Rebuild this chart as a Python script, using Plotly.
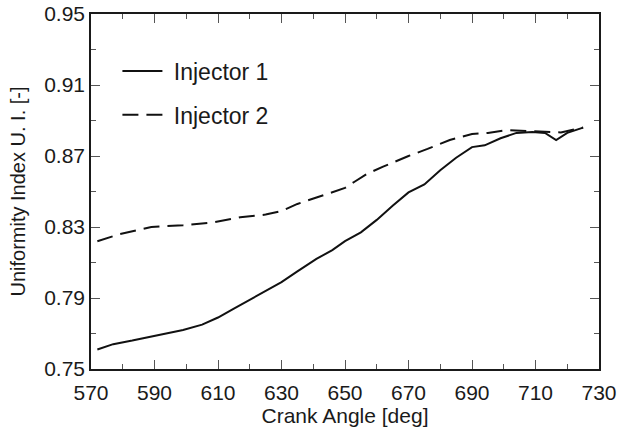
import plotly.graph_objects as go

# Data
inj1_x = [572, 577, 583, 591, 599, 605, 610, 615, 620, 625, 630, 635, 641, 646, 650, 655,
          660, 665, 670, 675, 680, 685, 690, 694, 699, 704, 709, 713, 716.5, 720, 725]
inj1_y = [0.761, 0.764, 0.766, 0.769, 0.772, 0.775, 0.779, 0.784, 0.789, 0.794, 0.799, 0.805,
          0.812, 0.817, 0.822, 0.827, 0.834, 0.842, 0.8495, 0.854, 0.862, 0.869, 0.875, 0.876,
          0.880, 0.883, 0.8835, 0.883, 0.879, 0.883, 0.886]
inj2_x = [572, 579, 589, 599, 608, 617, 625, 630, 635, 640, 645, 650, 653, 657, 662, 666, 670,
          676, 683, 690, 695, 701, 709, 718, 725]
inj2_y = [0.822, 0.826, 0.830, 0.831, 0.8325, 0.8355, 0.837, 0.839, 0.843, 0.846, 0.849, 0.852,
          0.8555, 0.860, 0.864, 0.867, 0.870, 0.874, 0.879, 0.8824, 0.883, 0.8846, 0.884, 0.8833,
          0.886]
x_ticks = [570, 590, 610, 630, 650, 670, 690, 710, 730]
y_ticks = [0.75, 0.79, 0.83, 0.87, 0.91, 0.95]

FONT = "Liberation Sans, Arial, sans-serif"

fig = go.Figure()
fig.add_trace(go.Scatter(x=inj1_x, y=inj1_y, mode="lines", name=" Injector 1",
                         legendgroup="a",
                         line=dict(color="#111111", width=2)))
fig.add_trace(go.Scatter(x=inj2_x, y=inj2_y, mode="lines", name=" Injector 2",
                         legendgroup="b",
                         line=dict(color="#111111", width=2, dash="16px,8px")))

axis_common = dict(
    showline=True, linecolor="#1a1a1a", linewidth=1.5, mirror="ticks",
    ticks="inside", ticklen=9, tickwidth=1.2, tickcolor="#555555",
    showgrid=False, zeroline=False, automargin=False,
    tickfont=dict(family=FONT, size=21, color="#1a1a1a"),
)

fig.update_xaxes(
    range=[570, 730], tickvals=x_ticks, ticktext=[str(v) for v in x_ticks],
    minor=dict(ticks="inside", ticklen=5, tickwidth=1.2, tickcolor="#555555", dtick=10, tick0=570),
    title=dict(text="Crank Angle [deg]", font=dict(family=FONT, size=21, color="#1a1a1a"), standoff=3),
    ticklabelstandoff=4,
    **axis_common,
)
fig.update_yaxes(
    range=[0.75, 0.95], tickvals=y_ticks, ticktext=[f"{v:.2f}" for v in y_ticks],
    minor=dict(ticks="inside", ticklen=5, tickwidth=1.2, tickcolor="#555555", dtick=0.02, tick0=0.75),
    title=dict(text="Uniformity Index U. I. [-]", font=dict(family=FONT, size=20, color="#1a1a1a"), standoff=13),
    **axis_common,
)

fig.update_layout(
    width=619, height=430,
    margin=dict(l=91, r=20, t=14, b=61),
    paper_bgcolor="white", plot_bgcolor="white",
    showlegend=True,
    legend=dict(x=0.052, y=0.9, xanchor="left", yanchor="top",
                bgcolor="rgba(0,0,0,0)", font=dict(family=FONT, size=23, color="#1a1a1a"),
                traceorder="grouped", tracegroupgap=11, itemwidth=40),
)

fig.write_html("out.html")
